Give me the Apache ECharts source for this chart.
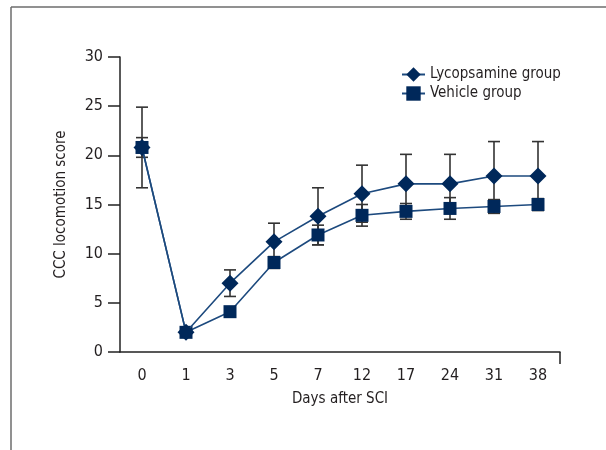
<!DOCTYPE html>
<html>
<head>
<meta charset="utf-8">
<script src="https://cdn.jsdelivr.net/npm/echarts@6/dist/echarts.min.js"></script>
<style>html,body{margin:0;padding:0;background:#fff;}#chart{width:606px;height:450px;}</style>
</head>
<body>
<div id="chart"></div>
<script>
const days = ['0', '1', '3', '5', '7', '12', '17', '24', '31', '38'];
const lycopsamine = [20.8, 2.0, 7.0, 11.2, 13.8, 16.1, 17.1, 17.1, 17.9, 17.9];
const lycopsamineSD = [4.1, 0.3, 1.35, 1.9, 2.9, 2.9, 3.0, 3.0, 3.5, 3.5];
const vehicle = [20.8, 2.0, 4.1, 9.1, 11.9, 13.9, 14.3, 14.6, 14.8, 15.0];
const vehicleSD = [1.0, 0.3, 0.4, 0.6, 1.0, 1.1, 0.8, 1.1, 0.7, 0.6];
const yTicks = [0, 5, 10, 15, 20, 25, 30];

const FONT = "'Liberation Sans Narrow', 'DejaVu Sans Condensed', sans-serif";
const TXT = '#231f20';
const NAVY = '#00285a';
const LINE = '#1d4a7e';

function errorBars(means, sds) {
  return {
    type: 'custom',
    z: 1,
    silent: true,
    data: days.map((d, i) => [i, means[i], sds[i]]),
    encode: { x: 0, y: 1 },
    renderItem: function (params, api) {
      const i = api.value(0), m = api.value(1), s = api.value(2);
      const top = api.coord([i, m + s]);
      const bot = api.coord([i, m - s]);
      const hw = 6;
      const st = { stroke: '#333333', lineWidth: 1.6 };
      return {
        type: 'group',
        children: [
          { type: 'line', shape: { x1: top[0], y1: top[1], x2: bot[0], y2: bot[1] }, style: st },
          { type: 'line', shape: { x1: top[0] - hw, y1: top[1], x2: top[0] + hw, y2: top[1] }, style: st },
          { type: 'line', shape: { x1: bot[0] - hw, y1: bot[1], x2: bot[0] + hw, y2: bot[1] }, style: st }
        ]
      };
    }
  };
}

const chart = echarts.init(document.getElementById('chart'), null, { renderer: 'canvas' });
chart.setOption({
  animation: false,
  backgroundColor: '#ffffff',
  textStyle: { fontFamily: FONT, color: TXT },
  graphic: [
    { type: 'line', shape: { x1: 11, y1: 7, x2: 606, y2: 7 }, style: { stroke: '#6d6d6d', lineWidth: 1.5 } },
    { type: 'line', shape: { x1: 11, y1: 7, x2: 11, y2: 450 }, style: { stroke: '#6d6d6d', lineWidth: 1.5 } }
  ],
  grid: { left: 120, right: 46, top: 57, bottom: 98 },
  legend: {
    orient: 'vertical',
    left: 396,
    top: 62,
    itemWidth: 23,
    itemHeight: 18,
    itemGap: 4,
    data: ['Lycopsamine group', 'Vehicle group'],
    textStyle: { fontFamily: FONT, fontSize: 15, color: TXT }
  },
  xAxis: [
    {
      type: 'category',
      data: days,
      boundaryGap: true,
      name: 'Days after SCI',
      nameLocation: 'middle',
      nameGap: 40,
      nameTextStyle: { fontFamily: FONT, fontSize: 15, color: TXT },
      axisLine: { lineStyle: { color: '#222', width: 1.5 } },
      axisTick: { alignWithLabel: true, length: 12, lineStyle: { color: '#222', width: 1.5 } },
      axisLabel: { margin: 16, fontFamily: FONT, fontSize: 16, color: TXT },
      splitLine: { show: false }
    },
    {
      type: 'value',
      position: 'bottom',
      min: 0,
      max: 1,
      axisLine: { show: false },
      axisTick: { show: true, customValues: [1], length: 12, lineStyle: { color: '#222', width: 1.5 } },
      axisLabel: { show: false },
      splitLine: { show: false }
    }
  ],
  yAxis: {
    type: 'value',
    min: 0,
    max: 30,
    interval: 5,
    name: 'CCC locomotion score',
    nameLocation: 'middle',
    nameGap: 51,
    nameTextStyle: { fontFamily: FONT, fontSize: 15, color: TXT },
    axisLine: { show: true, lineStyle: { color: '#222', width: 1.5 } },
    axisTick: { show: true, length: 12, lineStyle: { color: '#222', width: 1.5 } },
    axisLabel: {
      margin: 17, fontFamily: FONT, fontSize: 16, color: TXT,
      formatter: function (v) { return yTicks.indexOf(v) >= 0 ? String(v) : ''; }
    },
    splitLine: { show: false }
  },
  series: [
    errorBars(lycopsamine, lycopsamineSD),
    errorBars(vehicle, vehicleSD),
    {
      name: 'Vehicle group',
      type: 'line',
      z: 3,
      data: vehicle,
      symbol: 'rect',
      symbolSize: 13,
      itemStyle: { color: NAVY },
      lineStyle: { color: LINE, width: 1.6 }
    },
    {
      name: 'Lycopsamine group',
      type: 'line',
      z: 4,
      data: lycopsamine,
      symbol: 'diamond',
      symbolSize: 17,
      itemStyle: { color: NAVY },
      lineStyle: { color: LINE, width: 1.6 }
    }
  ]
});
</script>
</body>
</html>
